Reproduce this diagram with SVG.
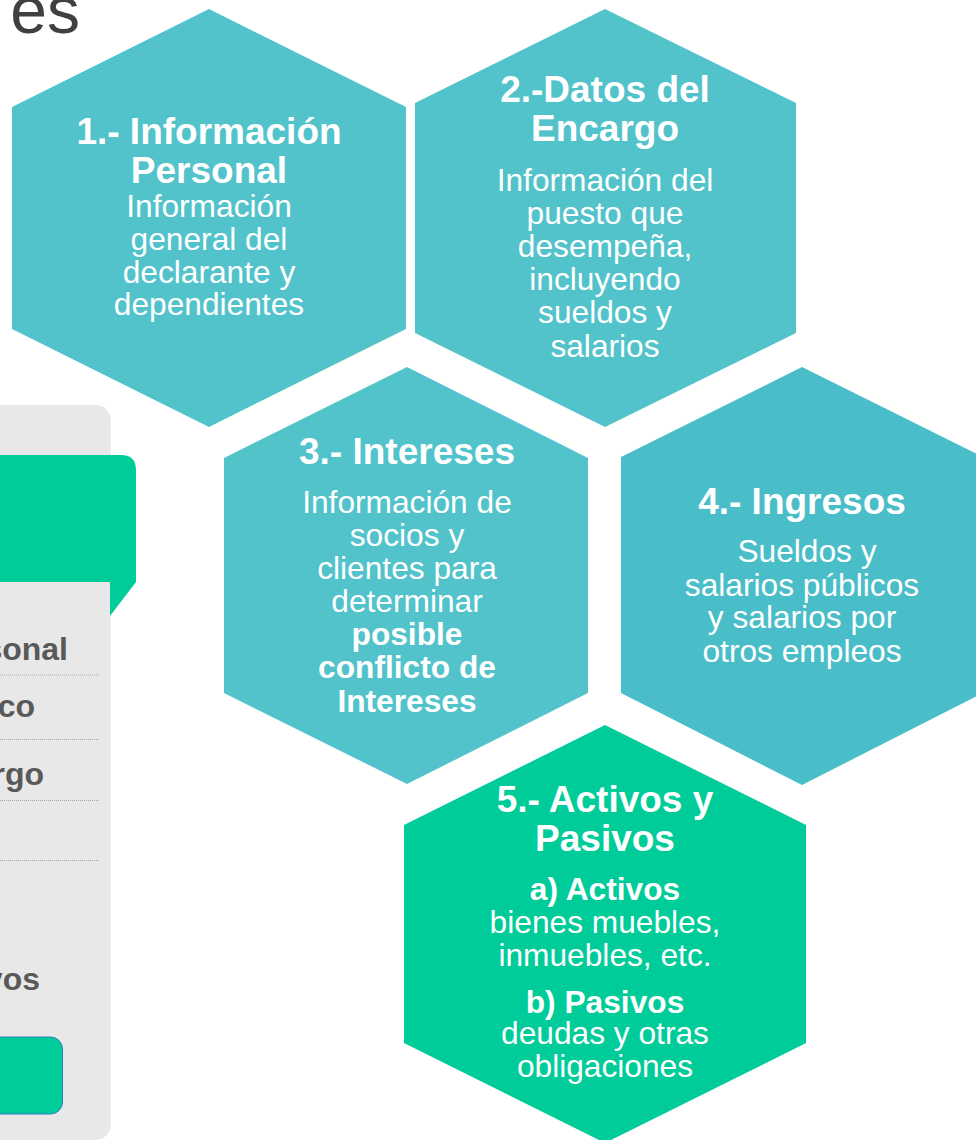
<svg xmlns="http://www.w3.org/2000/svg" width="976" height="1140" viewBox="0 0 976 1140">
<style>
.hx{fill:#52C3CB}
.hx4{fill:#4ABEC8}
.hx5{fill:#00CC99}
.t{font-family:"Liberation Sans",Arial,sans-serif;fill:#FFFFFF;text-anchor:middle}
.ti{font-size:37px;font-weight:bold}
.b{font-size:31.7px}
.bb{font-size:31.7px;font-weight:bold}
.pt{font-family:"Liberation Sans",Arial,sans-serif;font-size:32px;font-weight:bold;fill:#595959;text-anchor:end}
.dl{stroke:#A8A8A8;stroke-width:1;stroke-dasharray:1 1}
</style>
<rect width="976" height="1140" fill="#FFFFFF"/>
<g id="title">
<text x="80" y="33" font-family="Liberation Sans, Arial, sans-serif" font-size="66" fill="#404040" text-anchor="end">es</text>
</g>
<g id="panel">
<rect x="-20" y="405" width="130.7" height="735" rx="15" fill="#E8E8E8"/>
<path d="M-20 455 H121 Q136 455 136 470 V582 H-20 Z" fill="#00CC99"/>
<polygon points="110,582 136,582 110,616" fill="#00CC99"/>
<text class="pt" x="68" y="660">sonal</text>
<line class="dl" x1="0" y1="675" x2="99" y2="675"/>
<text class="pt" x="35" y="717">co</text>
<line class="dl" x1="0" y1="739.5" x2="99" y2="739.5"/>
<text class="pt" x="44" y="785">rgo</text>
<line class="dl" x1="0" y1="800.5" x2="99" y2="800.5"/>
<line class="dl" x1="0" y1="860.5" x2="99" y2="860.5"/>
<text class="pt" x="40" y="990">vos</text>
<rect x="-20" y="1037" width="82.5" height="77" rx="12" fill="#00CC99" stroke="#2A7FBF" stroke-width="1"/>
</g>
<g id="connectors"/>
<g id="hex1">
<polygon class="hx" points="209,9 406,107 406,329 209,427 12,329 12,107"/>
<text class="t"><tspan class="ti" x="209" y="144">1.- Información</tspan><tspan class="ti" x="209" y="183">Personal</tspan><tspan class="b" x="209" y="217">Información</tspan><tspan class="b" x="209" y="249.5">general del</tspan><tspan class="b" x="209" y="283">declarante y</tspan><tspan class="b" x="209" y="315">dependientes</tspan></text>
</g>
<g id="hex2">
<polygon class="hx" points="605,9 796,103 796,333 605,427 415,333 415,103"/>
<text class="t"><tspan class="ti" x="605" y="102">2.-Datos del</tspan><tspan class="ti" x="605" y="141">Encargo</tspan><tspan class="b" x="605" y="191">Información del</tspan><tspan class="b" x="605" y="224">puesto que</tspan><tspan class="b" x="605" y="257">desempeña,</tspan><tspan class="b" x="605" y="290">incluyendo</tspan><tspan class="b" x="605" y="323">sueldos y</tspan><tspan class="b" x="605" y="357">salarios</tspan></text>
</g>
<g id="hex3">
<polygon class="hx" points="407,367 588,458 588,693 407,784 224,693 224,458"/>
<text class="t"><tspan class="ti" x="407" y="464">3.- Intereses</tspan><tspan class="b" x="407" y="513">Información de</tspan><tspan class="b" x="407" y="546">socios y</tspan><tspan class="b" x="407" y="579">clientes para</tspan><tspan class="b" x="407" y="612">determinar</tspan><tspan class="bb" x="407" y="645">posible</tspan><tspan class="bb" x="407" y="678">conflicto de</tspan><tspan class="bb" x="407" y="712">Intereses</tspan></text>
</g>
<g id="hex4">
<polygon class="hx4" points="802,367 983,457 983,693 802,785 621,693 621,457"/>
<text class="t"><tspan class="ti" x="802" y="514">4.- Ingresos</tspan><tspan class="b" x="807" y="562">Sueldos y</tspan><tspan class="b" x="802" y="596">salarios públicos</tspan><tspan class="b" x="802" y="628">y salarios por</tspan><tspan class="b" x="802" y="662">otros empleos</tspan></text>
</g>
<g id="hex5">
<polygon class="hx5" points="605,725 806,825 806,1043 605,1143 404,1043 404,825"/>
<text class="t"><tspan class="ti" x="605" y="812">5.- Activos y</tspan><tspan class="ti" x="605" y="851">Pasivos</tspan><tspan class="bb" x="605" y="900">a) Activos</tspan><tspan class="b" x="605" y="933">bienes muebles,</tspan><tspan class="b" x="605" y="966">inmuebles, etc.</tspan><tspan class="bb" x="605" y="1013">b) Pasivos</tspan><tspan class="b" x="605" y="1044">deudas y otras</tspan><tspan class="b" x="605" y="1077">obligaciones</tspan></text>
</g>
</svg>
